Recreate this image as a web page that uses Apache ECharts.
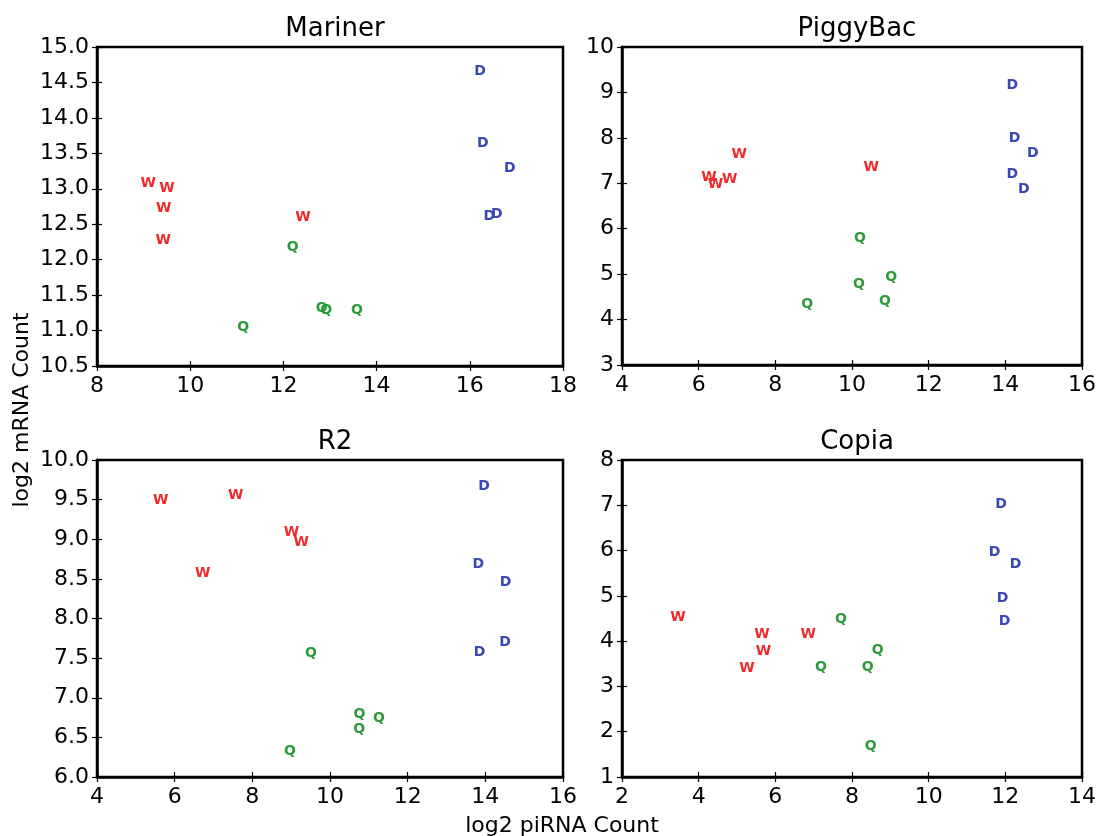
<!DOCTYPE html>
<html>
<head>
<meta charset="utf-8">
<script src="https://cdn.jsdelivr.net/npm/echarts@6/dist/echarts.min.js"></script>
<style>
html, body { margin: 0; padding: 0; background: #fff; }
#main { width: 1102px; height: 836px; }
</style>
</head>
<body>
<div id="main"></div>
<script>
/**
 * 四个转座子 piRNA / mRNA 散点
 * */

// 面板标题
var panelNames = ['Mariner', 'PiggyBac', 'R2', 'Copia'];
// 坐标轴刻度 [min, max, interval]
var xTicks = [[8, 18, 2], [4, 16, 2], [4, 16, 2], [2, 14, 2]];
var yTicks = [[10.5, 15, 0.5], [3, 10, 1], [6, 10, 0.5], [1, 8, 1]];
// y轴小数位
var yDigits = [1, 0, 1, 0];

// 组别字母
var groupLetters = ['W', 'Q', 'D'];

// Mariner
var marinerW = [[9.1, 13.08], [9.5, 13.01], [9.43, 12.72], [9.42, 12.27], [12.42, 12.59]];
var marinerQ = [[11.14, 11.04], [12.2, 12.17], [12.82, 11.31], [12.92, 11.29], [13.58, 11.28]];
var marinerD = [[16.22, 14.65], [16.28, 13.64], [16.86, 13.29], [16.42, 12.61], [16.58, 12.64]];

// PiggyBac
var piggyW = [[6.27, 7.12], [6.44, 6.98], [6.81, 7.08], [7.06, 7.63], [10.5, 7.35]];
var piggyQ = [[8.83, 4.33], [10.18, 4.78], [10.21, 5.78], [11.02, 4.94], [10.86, 4.4]];
var piggyD = [[14.18, 9.16], [14.24, 7.98], [14.72, 7.66], [14.18, 7.19], [14.48, 6.86]];

// R2
var r2W = [[5.64, 9.49], [7.57, 9.56], [6.72, 8.57], [9.01, 9.09], [9.26, 8.96]];
var r2Q = [[9.51, 7.56], [10.76, 6.79], [10.75, 6.6], [11.26, 6.74], [8.97, 6.32]];
var r2D = [[13.97, 9.67], [13.82, 8.68], [14.52, 8.46], [13.85, 7.57], [14.51, 7.7]];

// Copia
var copiaW = [[3.46, 4.53], [5.65, 4.15], [5.69, 3.78], [5.26, 3.4], [6.86, 4.16]];
var copiaQ = [[7.71, 4.48], [7.19, 3.42], [8.41, 3.42], [8.67, 3.8], [8.49, 1.68]];
var copiaD = [[11.89, 7.03], [11.72, 5.95], [12.27, 5.69], [11.93, 4.95], [11.98, 4.43]];

var panelData = [
	[marinerW, marinerQ, marinerD],
	[piggyW, piggyQ, piggyD],
	[r2W, r2Q, r2D],
	[copiaW, copiaQ, copiaD]
];

/**
 * 样式
 * */
var letterColors = ['#ee2a2a', '#2c9a38', '#3a48b5'];
var fontFamily = '"DejaVu Sans", sans-serif';
var gridPos = [
	{ left: 97, top: 47, width: 466, height: 319 },
	{ left: 622, top: 47, width: 460, height: 318 },
	{ left: 97, top: 460, width: 466, height: 317 },
	{ left: 622, top: 460, width: 460, height: 317 }
];

var methods = {
	//坐标轴公共部分
	axisBase(i, range, inner, pos) {
		return {
			type: 'value', gridIndex: i,
			position: pos,
			offset: 0,
			min: range[0], max: range[1], interval: range[2],
			axisLine: { show: !inner, onZero: false, lineStyle: { color: '#000', width: 2.5 } },
			axisTick: { show: true, inside: inner, length: 5, lineStyle: { color: '#000', width: 1.2 } },
			splitLine: { show: false }
		};
	},
	buildOption() {
		var grids = [], xAxes = [], yAxes = [], titles = [], series = [];
		panelNames.forEach(function(name, i) {
			var g = gridPos[i];
			grids.push({
				left: g.left, top: g.top, width: g.width, height: g.height,
				show: true,
				borderColor: '#000',
				borderWidth: 2.5,
				backgroundColor: '#fff'
			});
			titles.push({
				text: name,
				left: g.left + g.width / 2,
				top: g.top - 36,
				textAlign: 'center',
				textStyle: { fontFamily: fontFamily, fontSize: 26, fontWeight: 'normal', color: '#000' }
			});
			var xa = methods.axisBase(i, xTicks[i], false, 'bottom');
			xa.axisLabel = { fontFamily: fontFamily, fontSize: 22, color: '#000', margin: 9, showMaxLabel: true, showMinLabel: true };
			xAxes.push(xa);
			var ya = methods.axisBase(i, yTicks[i], false, 'left');
			ya.axisLabel = {
				fontFamily: fontFamily, fontSize: 22, color: '#000', margin: 8,
				showMaxLabel: true, showMinLabel: true,
				formatter: function(v) { return v.toFixed(yDigits[i]); }
			};
			yAxes.push(ya);
			//刻度向内一半
			var xi = methods.axisBase(i, xTicks[i], true, 'bottom');
			xi.axisLabel = { show: false };
			xAxes.push(xi);
			var yi = methods.axisBase(i, yTicks[i], true, 'left');
			yi.axisLabel = { show: false };
			yAxes.push(yi);
			panelData[i].forEach(function(pts, k) {
				series.push({
					type: 'scatter',
					xAxisIndex: i * 2, yAxisIndex: i * 2,
					data: pts,
					symbol: 'circle',
					symbolSize: 2,
					itemStyle: { color: 'rgba(0,0,0,0)', opacity: 1 },
					label: {
						show: true,
						position: 'inside',
						formatter: groupLetters[k],
						color: letterColors[k],
						opacity: 1,
						textBorderWidth: 0,
						textBorderColor: 'transparent',
						fontFamily: fontFamily,
						fontWeight: 'bold',
						fontSize: 14
					},
					emphasis: { disabled: true },
					silent: true
				});
			});
		});
		return {
			backgroundColor: '#fff',
			animation: false,
			title: titles,
			grid: grids,
			xAxis: xAxes,
			yAxis: yAxes,
			series: series,
			graphic: [
				{
					type: 'text',
					x: 22, y: 410,
					rotation: Math.PI / 2,
					style: {
						text: 'log2 mRNA Count',
						fontFamily: fontFamily, fontSize: 22, fill: '#000',
						align: 'center', verticalAlign: 'middle'
					}
				},
				{
					type: 'text',
					x: 562, y: 826,
					style: {
						text: 'log2 piRNA Count',
						fontFamily: fontFamily, fontSize: 22, fill: '#000',
						align: 'center', verticalAlign: 'middle'
					}
				}
			]
		};
	},
	init() {
		var chart = echarts.init(document.getElementById('main'));
		chart.setOption(methods.buildOption());
	}
};

methods.init();
</script>
</body>
</html>
